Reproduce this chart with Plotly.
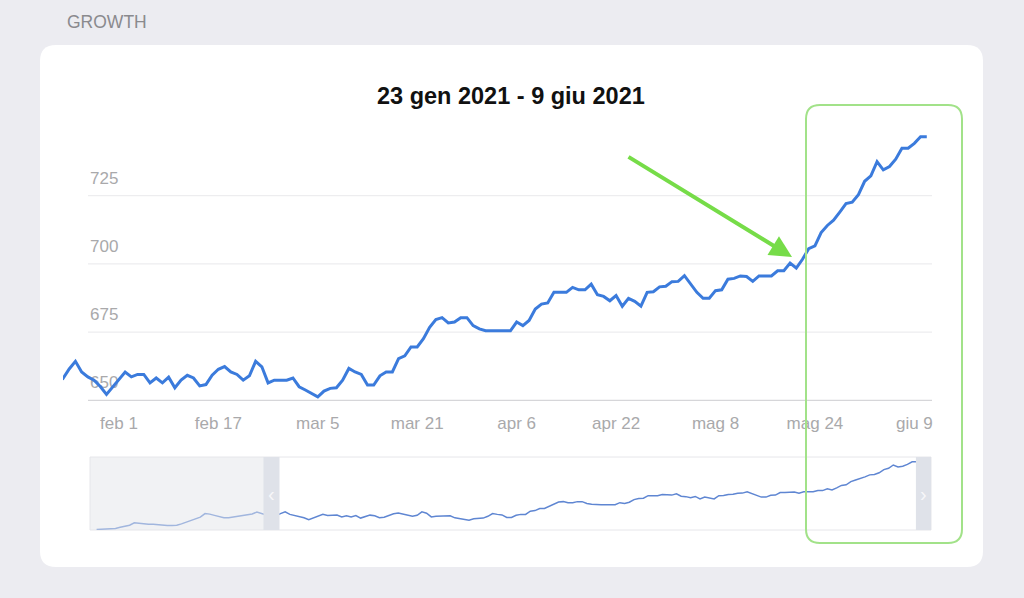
import pandas as pd
import plotly.graph_objects as go

W, H = 1024, 598

first_day = "2020-12-16"
view_start = "2021-01-23"
view_end = "2021-06-12"

# daily values before the zoomed window (only seen in the navigator)
early_values = [636.8, 637.0, 637.3, 637.6, 638.5, 640.2, 641.4, 643.5, 647.2, 646.2,
                645.1, 645.1, 645.1, 644.2, 643.2, 643.0, 643.0, 643.4, 645.6, 648.0,
                651.0, 652.8, 656.0, 661.6, 660.8, 658.8, 656.8, 655.0, 655.3, 656.6,
                657.2, 659.0, 660.4, 661.0, 664.0, 661.2, 659.6, 658.6]

# daily values of the zoomed window, 23 gen onwards
growth_values = [658.0, 661.5, 664.3, 660.4, 658.6, 657.4, 655.1, 652.2, 655.0, 658.0,
                 660.4, 658.6, 659.5, 659.5, 656.4, 658.2, 656.4, 658.5, 654.6, 657.4,
                 659.2, 658.2, 655.3, 655.8, 659.2, 661.4, 662.4, 660.4, 659.5, 657.4,
                 659.0, 664.3, 662.3, 656.4, 657.4, 657.4, 657.4, 658.2, 655.0, 653.8,
                 652.6, 651.3, 653.4, 654.4, 654.6, 657.4, 661.7, 660.4, 659.5, 655.6,
                 655.6, 659.0, 660.4, 660.4, 665.3, 666.3,
                 669.6, 669.6, 672.6, 676.8, 679.6, 680.3, 678.4, 678.7, 680.3, 680.3,
                 677.4, 676.2, 675.5, 675.5, 675.5, 675.5, 675.5, 678.7, 677.4, 679.3,
                 683.5, 685.3, 685.7, 689.6, 689.6, 689.6, 691.4, 690.5, 690.5, 692.6,
                 688.7, 688.1, 686.5, 688.4, 684.5, 687.4, 686.3, 684.5, 689.6, 689.8,
                 691.6, 691.8, 693.5, 693.6, 695.7, 692.6, 689.6, 687.4, 687.4, 690.2,
                 690.5, 694.4, 694.7, 695.6, 695.4, 693.6, 695.6, 695.6, 695.6, 697.5,
                 697.5, 700.3, 698.5,
                 701.7, 705.6, 706.6, 711.5, 714.1, 716.0, 719.0, 722.1, 722.6, 725.4,
                 730.3, 732.3, 737.5, 734.5, 735.7, 738.4, 742.4, 742.4, 744.2, 746.6,
                 746.6]

tick_dates = ["2021-02-01", "2021-02-17", "2021-03-05", "2021-03-21", "2021-04-06",
              "2021-04-22", "2021-05-08", "2021-05-24", "2021-06-09"]
tick_text = ["feb 1", "feb 17", "mar 5", "mar 21", "apr 6",
             "apr 22", "mag 8", "mag 24", "giu 9"]
y_ticks = [650, 675, 700, 725]

values = early_values + growth_values
dates = pd.date_range(first_day, periods=len(values), freq="D")

slider_start = dates[0] - pd.Timedelta(days=1.4)
slider_end = dates[-1]


def px(x):
    return x / W


def py(y):
    return 1 - y / H


def rounded_rect(x0, y0, x1, y1, r):
    # path in paper coords, built from pixel corners
    return (f"M {px(x0 + r)},{py(y0)} L {px(x1 - r)},{py(y0)} "
            f"Q {px(x1)},{py(y0)} {px(x1)},{py(y0 + r)} L {px(x1)},{py(y1 - r)} "
            f"Q {px(x1)},{py(y1)} {px(x1 - r)},{py(y1)} L {px(x0 + r)},{py(y1)} "
            f"Q {px(x0)},{py(y1)} {px(x0)},{py(y1 - r)} L {px(x0)},{py(y0 + r)} "
            f"Q {px(x0)},{py(y0)} {px(x0 + r)},{py(y0)} Z")


fig = go.Figure()

fig.add_trace(go.Scatter(
    x=dates, y=values, mode="lines",
    line=dict(color="#3b7bdc", width=3),
    xaxis="x", yaxis="y", hoverinfo="skip"
))
# navigator below the chart
fig.add_trace(go.Scatter(
    x=dates, y=values, mode="lines",
    line=dict(color="#5f86d2", width=1.5),
    xaxis="x2", yaxis="y2", hoverinfo="skip"
))

shapes = []
# white card
shapes.append(dict(type="path", path=rounded_rect(40, 45, 983, 567, 16),
                   xref="paper", yref="paper", fillcolor="white",
                   line=dict(width=0), layer="below"))
# gridlines (they start a bit right of the plot edge in the original)
for v in y_ticks:
    shapes.append(dict(type="line", xref="paper", yref="y",
                       x0=px(88), x1=px(932), y0=v, y1=v,
                       line=dict(color="#d6d6d9" if v == y_ticks[0] else "#ededef", width=1.2),
                       layer="below"))
# navigator frame
shapes.append(dict(type="rect", xref="x2 domain", yref="y2 domain", x0=0, x1=1, y0=0, y1=1,
                   line=dict(color="#e6e6ea", width=1), fillcolor="rgba(0,0,0,0)", layer="below"))
# masked part before the visible window
shapes.append(dict(type="rect", xref="x2", yref="y2 domain",
                   x0=slider_start, x1=view_start, y0=0, y1=1,
                   fillcolor="rgba(228,229,234,0.5)", line=dict(width=0), layer="above"))
# handles
vs = pd.Timestamp(view_start)
shapes.append(dict(type="rect", xref="x2", yref="y2 domain",
                   x0=vs - pd.Timedelta(days=2.6), x1=vs + pd.Timedelta(days=0.8), y0=0, y1=1,
                   fillcolor="#dfe2e9", line=dict(width=0), layer="above"))
shapes.append(dict(type="rect", xref="x2", yref="y2 domain",
                   x0=slider_end - pd.Timedelta(days=3.2), x1=slider_end, y0=0, y1=1,
                   fillcolor="#dfe2e9", line=dict(width=0), layer="above"))
# green highlight box
shapes.append(dict(type="path", path=rounded_rect(806, 105, 962, 543, 14),
                   xref="paper", yref="paper", fillcolor="rgba(0,0,0,0)",
                   line=dict(color="#a2e289", width=2), layer="above"))

annotations = [
    dict(text="GROWTH", x=px(65), y=py(22), xref="paper", yref="paper",
         xanchor="left", yanchor="middle", showarrow=False,
         font=dict(size=17.5, color="#8a8a8e")),
    dict(text="<b>23 gen 2021 - 9 giu 2021</b>", x=px(511), y=py(96),
         xref="paper", yref="paper", xanchor="center", yanchor="middle",
         showarrow=False, font=dict(size=23.5, color="#111111")),
    dict(text="", x=px(792), y=py(257), xref="paper", yref="paper",
         ax=-165, ay=-101, showarrow=True, arrowhead=2, arrowsize=1.1,
         arrowwidth=4, arrowcolor="#76dc48"),
    dict(text="‹", x=vs - pd.Timedelta(days=0.9), y=0.5, xref="x2", yref="y2 domain",
         showarrow=False, font=dict(size=20, color="#f7f7f9")),
    dict(text="›", x=slider_end - pd.Timedelta(days=1.6), y=0.5, xref="x2", yref="y2 domain",
         showarrow=False, font=dict(size=20, color="#f7f7f9")),
]

fig.update_layout(
    width=W, height=H,
    margin=dict(l=0, r=0, t=0, b=0),
    paper_bgcolor="#ececf1",
    plot_bgcolor="rgba(0,0,0,0)",
    font=dict(family="Liberation Sans, Arial, sans-serif"),
    showlegend=False,
    shapes=shapes,
    annotations=annotations,
    xaxis=dict(
        domain=[px(63), px(933)], range=[view_start, view_end],
        tickvals=tick_dates, ticktext=tick_text,
        showgrid=False, zeroline=False, showline=False,
        ticks="outside", ticklen=6, tickcolor="rgba(0,0,0,0)",
        tickfont=dict(size=17, color="#a9a9ab"),
        anchor="y",
    ),
    yaxis=dict(
        domain=[py(402), py(127.5)], range=[649.4, 750],
        tickvals=y_ticks, showgrid=False, zeroline=False, showline=False,
        ticklabelposition="inside top", ticklabelstandoff=24, ticklabelshift=-6,
        tickfont=dict(size=17, color="#a9a9ab"),
        layer="below traces",
        anchor="x",
    ),
    xaxis2=dict(
        domain=[px(90), px(931)], range=[slider_start, slider_end],
        visible=False, anchor="y2",
    ),
    yaxis2=dict(
        domain=[py(530), py(457)], range=[636, 750],
        visible=False, anchor="x2",
    ),
)

# drop the browser's default page margin so the figure fills the window
fig.write_html("out.html",
               config={"displayModeBar": False},
               post_script="document.body.style.margin='0';"
                           "document.body.style.background='#ececf1';")
